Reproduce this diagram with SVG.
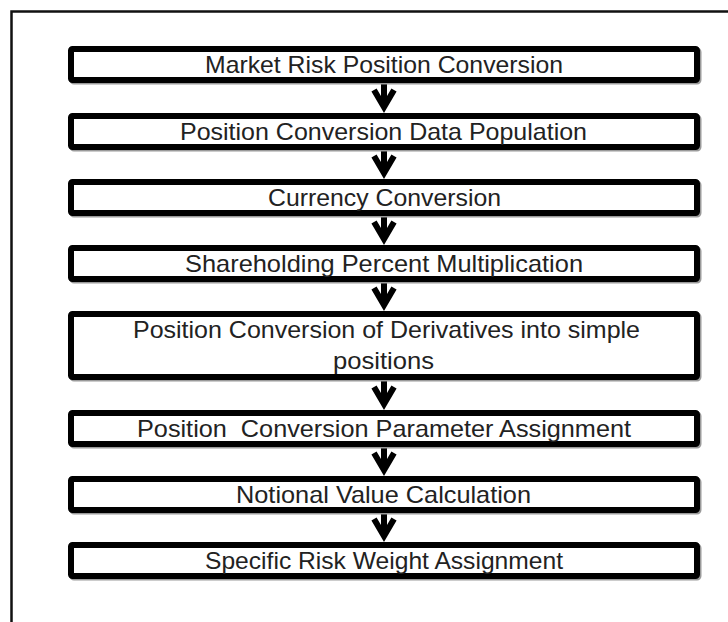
<svg xmlns="http://www.w3.org/2000/svg" width="728" height="622" viewBox="0 0 728 622">
<style>
.bg{fill:#ffffff}
.frame{fill:none;stroke:#111;stroke-width:2.5}
.box{fill:#ffffff;stroke:#000;stroke-width:6}
.shadow{fill:none;stroke:#9a9a9a;stroke-width:6}
.lbl{font-family:"Liberation Sans",Arial,sans-serif;font-size:24px;fill:#222;}
.conn{fill:none;stroke:#000;stroke-width:6;stroke-linejoin:miter;stroke-miterlimit:10}
</style>
<rect class="bg" x="0" y="0" width="728" height="622"/>
<path class="frame" d="M11.5 622 V11.5 H728"/>

<g id="connectors">
<path class="conn" d="M384 83 V104 M374 90 L384 107 L394 90"/>
<path class="conn" d="M384 150 V170 M374 156 L384 173 L394 156"/>
<path class="conn" d="M384 216 V236 M374 222 L384 239 L394 222"/>
<path class="conn" d="M384 282 V302 M374 288 L384 305 L394 288"/>
<path class="conn" d="M384 380 V401 M374 387 L384 404 L394 387"/>
<path class="conn" d="M384 447 V467 M374 453 L384 470 L394 453"/>
<path class="conn" d="M384 513 V533 M374 519 L384 536 L394 519"/>
</g>

<g id="n1">
<rect class="shadow" x="72.5" y="50.5" width="626" height="31" rx="1.5"/>
<rect class="box" x="71" y="49" width="626" height="31" rx="1.5"/>
<text class="lbl" x="205" y="73" textLength="358" lengthAdjust="spacingAndGlyphs">Market Risk Position Conversion</text>
</g>
<g id="n2">
<rect class="shadow" x="72.5" y="117.5" width="626" height="31" rx="1.5"/>
<rect class="box" x="71" y="116" width="626" height="31" rx="1.5"/>
<text class="lbl" x="180" y="140" textLength="407" lengthAdjust="spacingAndGlyphs">Position Conversion Data Population</text>
</g>
<g id="n3">
<rect class="shadow" x="72.5" y="183.5" width="626" height="31" rx="1.5"/>
<rect class="box" x="71" y="182" width="626" height="31" rx="1.5"/>
<text class="lbl" x="268" y="206" textLength="233" lengthAdjust="spacingAndGlyphs">Currency Conversion</text>
</g>
<g id="n4">
<rect class="shadow" x="72.5" y="249.5" width="626" height="31" rx="1.5"/>
<rect class="box" x="71" y="248" width="626" height="31" rx="1.5"/>
<text class="lbl" x="185" y="272" textLength="398" lengthAdjust="spacingAndGlyphs">Shareholding Percent Multiplication</text>
</g>
<g id="n5">
<rect class="shadow" x="72.5" y="315.5" width="626" height="63" rx="1.5"/>
<rect class="box" x="71" y="314" width="626" height="63" rx="1.5"/>
<text class="lbl" x="133" y="338" textLength="507" lengthAdjust="spacingAndGlyphs">Position Conversion of Derivatives into simple</text>
<text class="lbl" x="333" y="369" textLength="101" lengthAdjust="spacingAndGlyphs">positions</text>
</g>
<g id="n6">
<rect class="shadow" x="72.5" y="414.5" width="626" height="31" rx="1.5"/>
<rect class="box" x="71" y="413" width="626" height="31" rx="1.5"/>
<text class="lbl" x="137" y="437" textLength="494" lengthAdjust="spacingAndGlyphs" xml:space="preserve">Position  Conversion Parameter Assignment</text>
</g>
<g id="n7">
<rect class="shadow" x="72.5" y="480.5" width="626" height="31" rx="1.5"/>
<rect class="box" x="71" y="479" width="626" height="31" rx="1.5"/>
<text class="lbl" x="236" y="503" textLength="295" lengthAdjust="spacingAndGlyphs">Notional Value Calculation</text>
</g>
<g id="n8">
<rect class="shadow" x="72.5" y="546.5" width="626" height="31" rx="1.5"/>
<rect class="box" x="71" y="545" width="626" height="31" rx="1.5"/>
<text class="lbl" x="205" y="569" textLength="358" lengthAdjust="spacingAndGlyphs">Specific Risk Weight Assignment</text>
</g>
</svg>
